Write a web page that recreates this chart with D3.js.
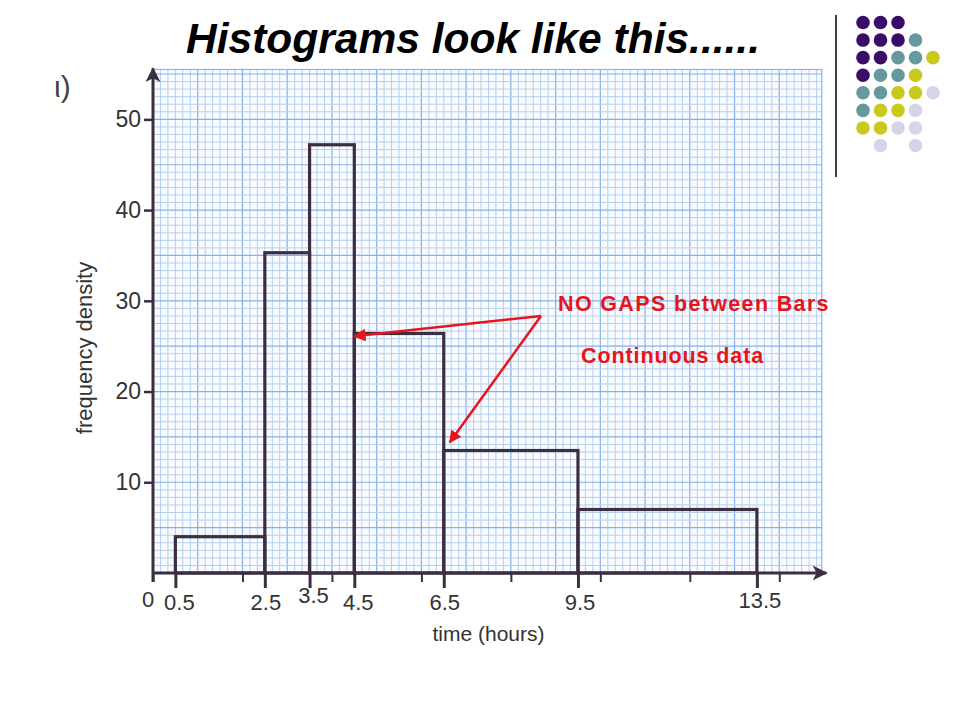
<!DOCTYPE html>
<html>
<head>
<meta charset="utf-8">
<script src="https://cdnjs.cloudflare.com/ajax/libs/d3/7.8.5/d3.min.js"></script>
<style>
  html, body { margin: 0; padding: 0; background: #ffffff; }
  svg { display: block; }
  text { font-family: "Liberation Sans", Arial, Helvetica, sans-serif; }
</style>
</head>
<body>
<script>
// ---------- data ----------
const binEdges = [0.5, 2.5, 3.5, 4.5, 6.5, 9.5, 13.5];
const freqDensity = [4, 35.3, 47.2, 26.4, 13.5, 7];
const xLabelValues = [0, 0.5, 2.5, 3.5, 4.5, 6.5, 9.5, 13.5];
const xLabelTexts = ["0", "0.5", "2.5", "3.5", "4.5", "6.5", "9.5", "13.5"];
const xMinorTicks = [0, 2, 4, 6, 8, 10, 12, 14];
const yTicks = [10, 20, 30, 40, 50];
const yTickLabels = ["10", "20", "30", "40", "50"];
const titleText = "Histograms look like this......";
const xTitle = "time (hours)";
const yTitle = "frequency density";
const note1 = "NO GAPS between Bars";
const note2 = "Continuous data";
// decorative dot pattern (rows of colour codes, "" = empty)
const dotRows = [
  ["P", "P", "P", "", ""],
  ["P", "P", "P", "T", ""],
  ["P", "P", "T", "T", "Y"],
  ["P", "T", "T", "Y", ""],
  ["T", "T", "Y", "Y", "L"],
  ["T", "Y", "Y", "L", ""],
  ["Y", "Y", "L", "L", ""],
  ["", "L", "", "L", ""]
];
const dotColors = { P: "#3a0c68", T: "#66999e", Y: "#c9c81c", L: "#d5d5e8" };

// ---------- setup ----------
const W = 960, H = 720;
const svg = d3.select("body").append("svg").attr("width", W).attr("height", H);

const x = d3.scaleLinear().domain([0, 15]).range([153, 824]);
const y = d3.scaleLinear().domain([0, 55]).range([573, 74]);

const axisColor = "#3b2e40";
const textColor = "#333333";

const defs = svg.append("defs");
defs.append("marker").attr("id", "axArrow").attr("viewBox", "0 0 10 10")
  .attr("refX", 9).attr("refY", 5).attr("markerWidth", 5).attr("markerHeight", 5)
  .attr("markerUnits", "strokeWidth").attr("orient", "auto")
  .append("path").attr("d", "M0,0 L10,5 L0,10 L2.5,5 Z").attr("fill", axisColor);
defs.append("marker").attr("id", "redArrow").attr("viewBox", "0 0 10 10")
  .attr("refX", 9).attr("refY", 5).attr("markerWidth", 5).attr("markerHeight", 5)
  .attr("markerUnits", "strokeWidth").attr("orient", "auto")
  .append("path").attr("d", "M0,0 L10,5 L0,10 Z").attr("fill", "#e8141c");

// ---------- graph paper ----------
const gx0 = 0, gx1 = 14.95, gy0 = 0, gy1 = 55.5;
const grid = svg.append("g");
grid.append("rect")
  .attr("x", x(gx0)).attr("y", y(gy1))
  .attr("width", x(gx1) - x(gx0)).attr("height", y(gy0) - y(gy1))
  .attr("fill", "#f9fbfe");
const vMinor = d3.range(0, 90).map(i => i / 6).filter(v => v <= gx1);
const hMinor = d3.range(0, 67).map(j => j * 5 / 6).filter(v => v <= gy1);
grid.selectAll("line.vm").data(vMinor).join("line")
  .attr("x1", d => x(d)).attr("x2", d => x(d))
  .attr("y1", y(gy0)).attr("y2", y(gy1))
  .attr("stroke", (d, i) => i % 6 === 0 ? "#86b1e6" : "#b3cff1")
  .attr("stroke-width", (d, i) => i % 6 === 0 ? 1.2 : 1);
grid.selectAll("line.hm").data(hMinor).join("line")
  .attr("x1", x(gx0)).attr("x2", x(gx1))
  .attr("y1", d => y(d)).attr("y2", d => y(d))
  .attr("stroke", (d, i) => i % 6 === 0 ? "#86b1e6" : "#b3cff1")
  .attr("stroke-width", (d, i) => i % 6 === 0 ? 1.2 : 1);
grid.append("rect")
  .attr("x", x(gx0)).attr("y", y(gy1))
  .attr("width", x(gx1) - x(gx0)).attr("height", y(gy0) - y(gy1))
  .attr("fill", "none").attr("stroke", "#8fb6e8").attr("stroke-width", 1.2);

// ---------- bars ----------
const bars = freqDensity.map((v, i) => ({ x0: binEdges[i], x1: binEdges[i + 1], v }));
svg.append("g").selectAll("rect").data(bars).join("rect")
  .attr("x", d => x(d.x0)).attr("width", d => x(d.x1) - x(d.x0))
  .attr("y", d => y(d.v)).attr("height", d => y(0) - y(d.v))
  .attr("fill", "none").attr("stroke", axisColor).attr("stroke-width", 3.2);

// ---------- x axis ----------
const xMajor = svg.append("g").attr("transform", `translate(0,${y(0)})`)
  .call(d3.axisBottom(x).tickValues(binEdges).tickSize(15).tickFormat(""));
xMajor.select(".domain").remove();
xMajor.selectAll(".tick line").attr("stroke", axisColor).attr("stroke-width", 3);

const xMinor = svg.append("g").attr("transform", `translate(0,${y(0)})`)
  .call(d3.axisBottom(x).tickValues(xMinorTicks).tickSize(9).tickFormat(""));
xMinor.select(".domain").remove();
xMinor.selectAll(".tick line").attr("stroke", axisColor).attr("stroke-width", 2);

svg.append("line")
  .attr("x1", x(0)).attr("x2", x(15.05)).attr("y1", y(0)).attr("y2", y(0))
  .attr("stroke", axisColor).attr("stroke-width", 3)
  .attr("marker-end", "url(#axArrow)");

const xLabelShift = [-5, 4, 1, 4, 4, 1, 2, 3];
const xLabelLift = [-3, 0, 0, -7, 0, 0, 0, -2];
svg.append("g").selectAll("text").data(xLabelValues).join("text")
  .attr("x", (d, i) => x(d) + xLabelShift[i])
  .attr("y", (d, i) => y(0) + 37 + xLabelLift[i])
  .attr("text-anchor", "middle")
  .attr("font-size", 22).attr("fill", textColor)
  .text((d, i) => xLabelTexts[i]);

svg.append("text")
  .attr("x", x(7.5)).attr("y", 641)
  .attr("text-anchor", "middle").attr("font-size", 21).attr("fill", textColor)
  .text(xTitle);

// ---------- y axis ----------
const yAx = svg.append("g").attr("transform", `translate(${x(0)},0)`)
  .call(d3.axisLeft(y).tickValues(yTicks).tickSize(9).tickPadding(3)
    .tickFormat((d, i) => yTickLabels[i]));
yAx.select(".domain").remove();
yAx.selectAll(".tick line").attr("stroke", axisColor).attr("stroke-width", 2.5);
yAx.selectAll(".tick text").attr("font-size", 23).attr("fill", textColor)
  .attr("font-family", "Liberation Sans, Arial, sans-serif");

svg.append("line")
  .attr("x1", x(0)).attr("x2", x(0)).attr("y1", y(0) + 9).attr("y2", y(55.6))
  .attr("stroke", axisColor).attr("stroke-width", 3)
  .attr("marker-end", "url(#axArrow)");

svg.append("text")
  .attr("transform", `translate(92,${y(24.8)}) rotate(-90)`)
  .attr("text-anchor", "middle").attr("font-size", 22).attr("fill", textColor)
  .text(yTitle);

svg.append("text")
  .attr("x", 54).attr("y", 97).attr("font-size", 30).attr("fill", "#4a4048")
  .attr("font-family", "DejaVu Serif, serif")
  .text("ι)");

// ---------- title ----------
svg.append("text")
  .attr("x", 473).attr("y", 53).attr("text-anchor", "middle")
  .attr("font-size", 42.5).attr("font-weight", "bold").attr("font-style", "italic")
  .attr("fill", "#000").text(titleText);

// ---------- annotations ----------
const red = "#e8141c";
const ann = svg.append("g");
ann.append("text").attr("x", 558).attr("y", 311)
  .attr("font-size", 21.5).attr("font-weight", "bold").attr("fill", red)
  .attr("letter-spacing", 1.35).text(note1);
ann.append("text").attr("x", 581).attr("y", 363)
  .attr("font-size", 21.5).attr("font-weight", "bold").attr("fill", red)
  .attr("letter-spacing", 0.9).text(note2);
// arrows from a common origin to the bar edges at 4.5 and 6.5
const origin = [541, 316];
const targets = [[x(4.5), y(26.1)], [x(6.5) + 6, y(14.4)]];
ann.selectAll("line").data(targets).join("line")
  .attr("x1", origin[0]).attr("y1", origin[1])
  .attr("x2", d => d[0]).attr("y2", d => d[1])
  .attr("stroke", red).attr("stroke-width", 2.5)
  .attr("marker-end", "url(#redArrow)");

// ---------- decoration ----------
svg.append("line").attr("x1", 836).attr("x2", 836).attr("y1", 15).attr("y2", 177)
  .attr("stroke", "#000").attr("stroke-width", 1.5);

const dots = [];
dotRows.forEach((row, r) => row.forEach((c, col) => { if (c) dots.push({ r, col, c }); }));
const dx = d3.scaleLinear().domain([0, 4]).range([863, 933]);
const dy = d3.scaleLinear().domain([0, 7]).range([22.5, 145.5]);
svg.append("g").selectAll("circle").data(dots).join("circle")
  .attr("cx", d => dx(d.col)).attr("cy", d => dy(d.r)).attr("r", 6.8)
  .attr("fill", d => dotColors[d.c]);
</script>
</body>
</html>
